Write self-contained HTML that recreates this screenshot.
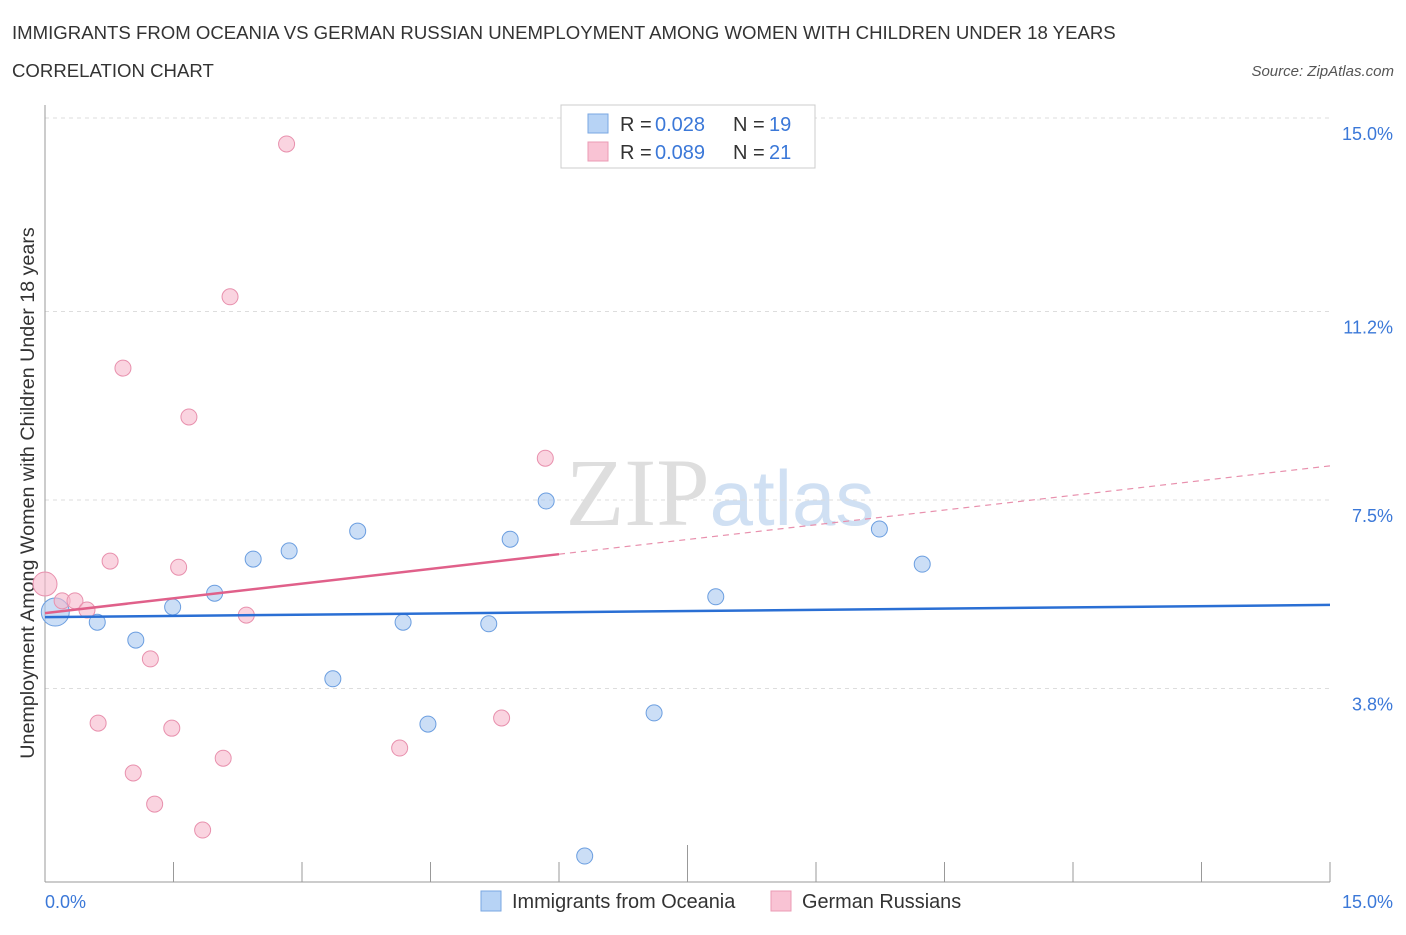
<!DOCTYPE html>
<html><head><meta charset="utf-8"><style>
body{margin:0;background:#fff;font-family:"Liberation Sans",sans-serif;}
svg text{font-family:"Liberation Sans",sans-serif;}
</style></head><body>
<svg id="c" width="1406" height="930" xmlns="http://www.w3.org/2000/svg">
<text x="12" y="39" font-size="18.6" fill="#333">IMMIGRANTS FROM OCEANIA VS GERMAN RUSSIAN UNEMPLOYMENT AMONG WOMEN WITH CHILDREN UNDER 18 YEARS</text>
<text x="12" y="77" font-size="18.6" fill="#333">CORRELATION CHART</text>
<text x="1394" y="76" font-size="15" fill="#555" font-style="italic" text-anchor="end">Source: ZipAtlas.com</text>
<text x="720" y="525" font-size="96" fill="#ddd" text-anchor="middle" font-family="Liberation Serif"><tspan fill="#dedede" font-family="Liberation Serif">ZIP</tspan><tspan fill="#d0e0f3" font-family="Liberation Sans" font-size="78">atlas</tspan></text>
<text transform="translate(34,493) rotate(-90)" font-size="19.7" fill="#333" text-anchor="middle">Unemployment Among Women with Children Under 18 years</text>
<g id="grid"></g><g id="marks"></g>
<g>
<rect x="561" y="105" width="254" height="63" fill="#fff" stroke="#ccc"/>
<rect x="588" y="114" width="20" height="19" fill="#b7d3f5" stroke="#7aa7e2"/>
<rect x="588" y="142" width="20" height="19" fill="#f9c3d4" stroke="#eb9bb5"/>
<text y="131" font-size="20" fill="#333"><tspan x="620">R =</tspan><tspan x="655" fill="#3b78d8">0.028</tspan><tspan x="733">N =</tspan><tspan x="769" fill="#3b78d8">19</tspan></text>
<text y="159" font-size="20" fill="#333"><tspan x="620">R =</tspan><tspan x="655" fill="#3b78d8">0.089</tspan><tspan x="733">N =</tspan><tspan x="769" fill="#3b78d8">21</tspan></text>
</g>
<g>
<rect x="481" y="891" width="20" height="20" fill="#b7d3f5" stroke="#7aa7e2"/>
<text x="512" y="908" font-size="19.9" fill="#333">Immigrants from Oceania</text>
<rect x="771" y="891" width="20" height="20" fill="#f9c3d4" stroke="#eb9bb5"/>
<text x="802" y="908" font-size="19.9" fill="#333">German Russians</text>
</g>
</svg>
<script>
const yTicks=[15.0,11.2,7.5,3.8];
const yTickLabels=["15.0%","11.2%","7.5%","3.8%"];
const blueX=[0.12,0.61,1.06,1.49,1.98,2.43,2.85,3.36,3.65,4.18,4.47,5.18,5.43,5.85,6.30,7.11,7.83,9.74,10.24];
const blueY=[5.30,5.10,4.75,5.40,5.67,6.34,6.50,3.99,6.89,5.10,3.10,5.07,6.73,7.48,0.51,3.32,5.60,6.93,6.24];
const pinkX=[0,0.20,0.35,0.49,0.62,0.76,0.91,1.03,1.23,1.28,1.48,1.56,1.68,1.84,2.08,2.16,2.35,2.82,4.14,5.33,5.84];
const pinkY=[5.85,5.52,5.52,5.34,3.12,6.30,10.09,2.14,4.38,1.53,3.02,6.18,9.13,1.02,2.43,11.49,5.24,14.49,2.63,3.22,8.32];
const blueTrend=[5.20,5.44];
const pinkTrend=[5.28,8.17];
const X0=45,X1=1330,Y0=882,YT=118;
const sx=v=>X0+v/15*(X1-X0);
const sy=v=>Y0-v/15*(Y0-YT);
const NS="http://www.w3.org/2000/svg";
function mk(t,a,p){const e=document.createElementNS(NS,t);for(const k in a)e.setAttribute(k,a[k]);p.appendChild(e);return e;}
const g=document.getElementById('grid'),m=document.getElementById('marks');
yTicks.forEach((v,i)=>{
 const l=mk('line',{x1:X0,x2:X1,y1:sy(v),y2:sy(v),stroke:'#ddd','stroke-dasharray':'4,4'},g);
 
 
 const t=mk('text',{x:1393,y:sy(v)+22,'font-size':18,fill:'#3b78d8','text-anchor':'end'},g);
 t.textContent=yTickLabels[i];
 
 
});
mk('line',{x1:X0,x2:X0,y1:105,y2:Y0,stroke:'#999'},g);
mk('line',{x1:X0,x2:X1,y1:Y0,y2:Y0,stroke:'#999'},g);
for(let i=0;i<=10;i++){const x=sx(i*1.5);mk('line',{x1:x,x2:x,y1:i==5?845:862,y2:Y0,stroke:'#999'},g);}
let t=mk('text',{x:45,y:908,'font-size':18,fill:'#3b78d8'},g);t.textContent='0.0%';


t=mk('text',{x:1393,y:908,'font-size':18,fill:'#3b78d8','text-anchor':'end'},g);t.textContent='15.0%';


blueX.forEach((v,i)=>{const c=mk('circle',{cx:sx(v),cy:sy(blueY[i]),r:i==0?14:8,fill:'rgba(168,200,240,0.6)',stroke:'#6b9ee0','stroke-width':1},m);
 
 });
pinkX.forEach((v,i)=>{const c=mk('circle',{cx:sx(v),cy:sy(pinkY[i]),r:i==0?12:8,fill:'rgba(246,184,203,0.6)',stroke:'#e890ad','stroke-width':1},m);
 
 });
let l=mk('line',{x1:sx(0),y1:sy(blueTrend[0]),x2:sx(15),y2:sy(blueTrend[1]),stroke:'#2a6fd4','stroke-width':2.5},m);


const py=v=>pinkTrend[0]+(pinkTrend[1]-pinkTrend[0])*v/15;
l=mk('line',{x1:sx(0),y1:sy(py(0)),x2:sx(6),y2:sy(py(6)),stroke:'#e0608a','stroke-width':2.5},m);


l=mk('line',{x1:sx(6),y1:sy(py(6)),x2:sx(15),y2:sy(py(15)),stroke:'#e890ad','stroke-width':1.2,'stroke-dasharray':'6,5'},m);


</script>
</body></html>
